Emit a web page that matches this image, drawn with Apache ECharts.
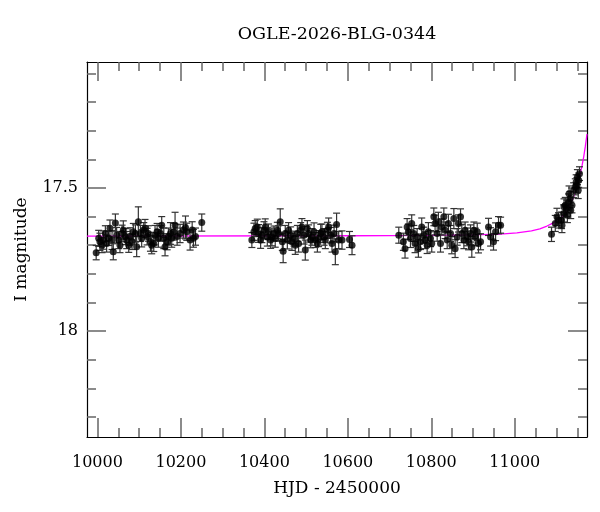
<!DOCTYPE html>
<html>
<head>
<meta charset="utf-8">
<script src="https://cdn.jsdelivr.net/npm/echarts@6/dist/echarts.min.js"></script>
<style>
html,body{margin:0;padding:0;background:#fff;}
#chart{width:600px;height:512px;}
</style>
</head>
<body>
<div id="chart"></div>
<script>
// ---- data ----
const titleText = 'OGLE-2026-BLG-0344';
const xName = 'HJD - 2450000';
const yName = 'I magnitude';

const xMajorTicks = [10000, 10200, 10400, 10600, 10800, 11000];
const xMinorTicks = [10000,10050,10100,10150,10200,10250,10300,10350,10400,10450,10500,10550,10600,10650,10700,10750,10800,10850,10900,10950,11000,11050,11100,11150];
const yMajorTicks = [17.5, 18];
const yMinorTicks = [17.1,17.2,17.3,17.4,17.5,17.6,17.7,17.8,17.9,18.0,18.1,18.2,18.3];

// season 1
const hjd1 = [9997,10003,10006,10011,10014,10019,10022,10027,10030,10035,10038,10043,10046,10051,10054,10059,10062,10067,10070,10075,10078,10083,10086,10091,10094,10098,10103,10106,10111,10114,10119,10122,10127,10130,10135,10138,10143,10146,10151,10154,10159,10162,10167,10170,10175,10178,10183,10186,10191,10198,10206,10211,10214,10222,10227,10230,10235,10250];
const mag1 = [17.726,17.676,17.688,17.700,17.682,17.659,17.694,17.676,17.641,17.682,17.723,17.622,17.665,17.682,17.700,17.659,17.647,17.670,17.682,17.700,17.670,17.688,17.653,17.659,17.705,17.618,17.659,17.676,17.647,17.641,17.670,17.659,17.688,17.700,17.694,17.665,17.653,17.676,17.659,17.630,17.676,17.705,17.688,17.670,17.659,17.676,17.653,17.630,17.670,17.659,17.647,17.638,17.653,17.682,17.647,17.676,17.670,17.621];
const err1 = [0.025,0.028,0.030,0.026,0.032,0.027,0.030,0.025,0.029,0.033,0.028,0.031,0.027,0.030,0.026,0.029,0.032,0.028,0.030,0.025,0.031,0.027,0.029,0.030,0.035,0.052,0.028,0.030,0.026,0.031,0.029,0.027,0.033,0.030,0.028,0.034,0.029,0.031,0.027,0.030,0.036,0.032,0.028,0.030,0.038,0.031,0.029,0.045,0.030,0.032,0.028,0.040,0.030,0.035,0.029,0.031,0.030,0.030];
// season 2
const hjd2 = [10370,10375,10378,10383,10386,10391,10394,10399,10402,10407,10410,10415,10418,10423,10426,10431,10434,10438,10443,10445,10450,10455,10458,10463,10466,10471,10474,10479,10482,10487,10490,10495,10498,10503,10506,10511,10514,10519,10522,10527,10530,10535,10538,10543,10546,10551,10554,10559,10562,10567,10570,10573,10578,10586,10604,10610];
const mag2 = [17.682,17.653,17.642,17.636,17.659,17.682,17.665,17.648,17.636,17.671,17.653,17.682,17.671,17.659,17.677,17.648,17.659,17.618,17.688,17.721,17.659,17.682,17.648,17.665,17.688,17.677,17.700,17.659,17.694,17.648,17.636,17.665,17.717,17.642,17.659,17.682,17.671,17.653,17.682,17.694,17.677,17.659,17.653,17.671,17.682,17.648,17.636,17.665,17.694,17.659,17.723,17.628,17.682,17.682,17.680,17.700];
const err2 = [0.026,0.030,0.028,0.027,0.031,0.029,0.026,0.030,0.028,0.032,0.027,0.029,0.031,0.026,0.030,0.028,0.027,0.045,0.030,0.040,0.028,0.031,0.027,0.029,0.030,0.026,0.032,0.028,0.030,0.027,0.029,0.031,0.035,0.028,0.030,0.027,0.029,0.031,0.026,0.030,0.028,0.032,0.027,0.029,0.030,0.028,0.031,0.027,0.030,0.029,0.045,0.040,0.030,0.032,0.028,0.033];
// season 3
const hjd3 = [10722,10733,10737,10742,10745,10750,10753,10758,10761,10766,10769,10774,10777,10782,10785,10790,10793,10798,10801,10806,10809,10814,10817,10822,10825,10830,10833,10838,10841,10846,10849,10854,10857,10862,10865,10870,10873,10878,10881,10886,10889,10894,10897,10902,10905,10910,10913,10918,10937,10942,10949,10954,10961,10966];
const mag3 = [17.665,17.688,17.712,17.636,17.653,17.677,17.624,17.659,17.694,17.671,17.712,17.688,17.636,17.665,17.682,17.700,17.653,17.677,17.694,17.601,17.624,17.659,17.618,17.694,17.636,17.601,17.648,17.682,17.624,17.659,17.700,17.607,17.712,17.671,17.624,17.601,17.659,17.682,17.648,17.671,17.688,17.659,17.706,17.648,17.671,17.653,17.694,17.688,17.636,17.671,17.688,17.653,17.630,17.630];
const err3 = [0.028,0.030,0.033,0.029,0.027,0.031,0.030,0.028,0.032,0.029,0.030,0.027,0.031,0.028,0.030,0.029,0.032,0.028,0.030,0.031,0.029,0.027,0.033,0.030,0.028,0.031,0.029,0.030,0.032,0.028,0.030,0.035,0.031,0.029,0.030,0.028,0.032,0.030,0.029,0.031,0.028,0.030,0.036,0.029,0.031,0.030,0.033,0.028,0.030,0.032,0.029,0.031,0.030,0.028];
// season 4
const hjd4 = [11088,11097,11101,11105,11112,11113,11117,11118,11121,11125,11126,11129,11130,11133,11134,11137,11141,11145,11147,11149,11150,11152,11153,11155];
const mag4 = [17.662,17.624,17.601,17.613,17.613,17.630,17.589,17.566,17.560,17.572,17.595,17.549,17.520,17.537,17.578,17.560,17.508,17.496,17.479,17.491,17.462,17.508,17.473,17.450];
const err4 = [0.025,0.028,0.030,0.027,0.029,0.026,0.030,0.028,0.027,0.029,0.026,0.028,0.027,0.025,0.029,0.027,0.026,0.028,0.025,0.027,0.026,0.029,0.025,0.024];

// model curve
const modelHjd = [9975,10600,10800,10900,10965,11005,11040,11060,11077,11090,11101,11110,11118,11125,11131,11137,11143,11149,11153,11157,11161,11165,11169,11173];
const modelMag = [17.668,17.667,17.666,17.664,17.661,17.657,17.650,17.643,17.633,17.624,17.613,17.604,17.592,17.578,17.563,17.545,17.523,17.497,17.475,17.450,17.423,17.392,17.355,17.312];

const X_MIN = 9975, X_MAX = 11173;
const Y_MIN = 17.06, Y_MAX = 18.37;

// ---- build ----
const hjd = hjd1.concat(hjd2, hjd3, hjd4);
const mag = mag1.concat(mag2, mag3, mag4);
const err = err1.concat(err2, err3, err4);
const points = hjd.map((h, i) => [h, mag[i], err[i]]);
const model = modelHjd.map((h, i) => [h, modelMag[i]]);

const FONT = 'DejaVu Serif';
const tickColor = '#666';

function xAxisDef(pos, ticks, len, showLine, showLabel) {
  return {
    type: 'value', position: pos, min: X_MIN, max: X_MAX, offset: 0,
    splitLine: {show: false},
    axisLine: {show: showLine, onZero: false, lineStyle: {color: '#000', width: 1.2}},
    axisTick: {show: true, inside: true, length: len, customValues: ticks, lineStyle: {color: tickColor, width: 1.5}},
    axisLabel: showLabel ? {show: true, customValues: xMajorTicks, margin: 18, fontFamily: FONT, fontSize: 16, color: '#000', formatter: v => String(v)} : {show: false},
    name: showLabel ? xName : '', nameLocation: 'middle', nameGap: 43,
    nameTextStyle: {fontFamily: FONT, fontSize: 17, color: '#000'}
  };
}
function yAxisDef(pos, ticks, len, showLine, showLabel) {
  return {
    type: 'value', position: pos, min: Y_MIN, max: Y_MAX, inverse: true, offset: 0,
    splitLine: {show: false},
    axisLine: {show: showLine, onZero: false, lineStyle: {color: '#000', width: 1.2}},
    axisTick: {show: true, inside: true, length: len, customValues: ticks, lineStyle: {color: tickColor, width: 1.5}},
    axisLabel: showLabel ? {show: true, customValues: yMajorTicks, margin: 9, fontFamily: FONT, fontSize: 16, color: '#000', formatter: v => String(v)} : {show: false},
    name: showLabel ? yName : '', nameLocation: 'middle', nameGap: 57, nameRotate: 90,
    nameTextStyle: {fontFamily: FONT, fontSize: 17, color: '#000'}
  };
}

const chart = echarts.init(document.getElementById('chart'), null, {renderer: 'canvas'});
chart.setOption({
  backgroundColor: '#fff',
  animation: false,
  grid: {left: 87, right: 13, top: 62, bottom: 75, containLabel: false, outerBoundsMode: 'none'},
  graphic: [{
    type: 'text', x: 337, y: 34,
    style: {text: titleText, fontFamily: FONT, fontSize: 17.5, fill: '#000', textAlign: 'center', textVerticalAlign: 'middle'}
  }],
  xAxis: [
    xAxisDef('bottom', xMajorTicks, 19, true, true),
    xAxisDef('bottom', xMinorTicks, 9, false, false),
    xAxisDef('top', xMajorTicks, 19, true, false),
    xAxisDef('top', xMinorTicks, 9, false, false)
  ],
  yAxis: [
    yAxisDef('left', yMajorTicks, 19, true, true),
    yAxisDef('left', yMinorTicks, 9, false, false),
    yAxisDef('right', yMajorTicks, 19, true, false),
    yAxisDef('right', yMinorTicks, 9, false, false)
  ],
  series: [
    {
      type: 'line', data: model, xAxisIndex: 0, yAxisIndex: 0,
      smooth: false, showSymbol: false, clip: true,
      lineStyle: {color: '#ff00ff', width: 1.3}, z: 2
    },
    {
      type: 'custom', data: points, xAxisIndex: 0, yAxisIndex: 0, clip: true, z: 3,
      renderItem: function (params, api) {
        const x = api.value(0), y = api.value(1), e = api.value(2);
        const p1 = api.coord([x, y - e]);
        const p2 = api.coord([x, y + e]);
        const cw = 3.5;
        const st = {stroke: '#333', lineWidth: 1.2};
        return {
          type: 'group',
          children: [
            {type: 'line', shape: {x1: p1[0], y1: p1[1], x2: p2[0], y2: p2[1]}, style: st},
            {type: 'line', shape: {x1: p1[0] - cw, y1: p1[1], x2: p1[0] + cw, y2: p1[1]}, style: st},
            {type: 'line', shape: {x1: p2[0] - cw, y1: p2[1], x2: p2[0] + cw, y2: p2[1]}, style: st}
          ]
        };
      }
    },
    {
      type: 'scatter', data: points.map(p => [p[0], p[1]]), xAxisIndex: 0, yAxisIndex: 0,
      symbol: 'circle', symbolSize: 7, itemStyle: {color: '#000'}, z: 4
    }
  ]
});
</script>
</body>
</html>
